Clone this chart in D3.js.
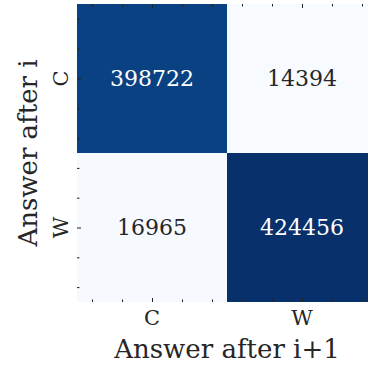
<!DOCTYPE html>
<html>
<head>
<meta charset="utf-8">
<script src="https://cdn.jsdelivr.net/npm/d3@7"></script>
<style>
  body { margin: 0; background: #fff; }
  svg text { font-family: "DejaVu Serif"; }
</style>
</head>
<body>
<div id="chart"></div>
<script>
const width = 368;
const height = 367;

// données de la matrice
const labels = ["C", "W"];
const rowC = [398722, 14394];
const rowW = [16965, 424456];
const rows = [rowC, rowW];
const xTitle = "Answer after i+1";
const yTitle = "Answer after i";

const x = d3.scaleLinear().domain([0, 2]).range([77, 377]);
const y = d3.scaleLinear().domain([0, 2]).range([4, 302]);

const all = rows.flat();
const color = d3.scaleSequential(d3.interpolateBlues)
    .domain([d3.min(all), d3.max(all)]);

const svg = d3.select("#chart").append("svg")
    .attr("width", width)
    .attr("height", height);

// cellules
const cells = [];
rows.forEach((r, i) => r.forEach((v, j) => cells.push({i, j, v})));

svg.selectAll("rect.cell")
    .data(cells)
    .enter().append("rect")
    .attr("class", "cell")
    .attr("x", d => x(d.j))
    .attr("y", d => y(d.i))
    .attr("width", d => x(d.j + 1) - x(d.j))
    .attr("height", d => y(d.i + 1) - y(d.i))
    .attr("fill", d => color(d.v));

const mid = (d3.min(all) + d3.max(all)) / 2;
svg.selectAll("text.val")
    .data(cells)
    .enter().append("text")
    .attr("class", "val")
    .attr("x", d => x(d.j + 0.5))
    .attr("y", d => y(d.i + 0.5))
    .attr("dy", "0.36em")
    .attr("text-anchor", "middle")
    .attr("font-size", 22)
    .attr("fill", d => d.v > mid ? "#fff" : "#262626")
    .text(d => d.v);

// graduations vers l'intérieur
const major = [0.5, 1.5];
const minor = d3.range(0.1, 2, 0.2).filter(v => Math.abs(v - 0.5) > 1e-6 && Math.abs(v - 1.5) > 1e-6);

function ticks(axisFn, scale, values, size, transform) {
    const g = svg.append("g")
        .attr("transform", transform)
        .call(axisFn(scale).tickValues(values).tickSize(-size).tickFormat(""));
    g.select(".domain").remove();
    g.selectAll("line").attr("stroke", "#222").attr("stroke-width", 1);
    return g;
}

[[major, 4], [minor, 2.5]].forEach(([vals, len]) => {
    ticks(d3.axisBottom, x, vals, len, `translate(0,${y(2)})`);
    ticks(d3.axisTop, x, vals, len, `translate(0,${y(0)})`);
    ticks(d3.axisLeft, y, vals, len, `translate(${x(0)},0)`);
    ticks(d3.axisRight, y, vals, len, `translate(${x(2)},0)`);
});

// étiquettes des graduations
svg.selectAll("text.xt")
    .data(labels)
    .enter().append("text")
    .attr("class", "xt")
    .attr("x", (d, i) => x(i + 0.5))
    .attr("y", 325)
    .attr("text-anchor", "middle")
    .attr("font-size", 21)
    .attr("fill", "#262626")
    .text(d => d);

svg.selectAll("text.yt")
    .data(labels)
    .enter().append("text")
    .attr("class", "yt")
    .attr("transform", (d, i) => `translate(68,${y(i + 0.5)}) rotate(-90)`)
    .attr("text-anchor", "middle")
    .attr("font-size", 21)
    .attr("fill", "#262626")
    .text(d => d);

// titres des axes
svg.append("text")
    .attr("x", (x(0) + x(2)) / 2)
    .attr("y", 358)
    .attr("text-anchor", "middle")
    .attr("font-size", 26)
    .attr("fill", "#262626")
    .text(xTitle);

svg.append("text")
    .attr("transform", `translate(37,${(y(0) + y(2)) / 2}) rotate(-90)`)
    .attr("text-anchor", "middle")
    .attr("font-size", 26)
    .attr("fill", "#262626")
    .text(yTitle);
</script>
</body>
</html>
